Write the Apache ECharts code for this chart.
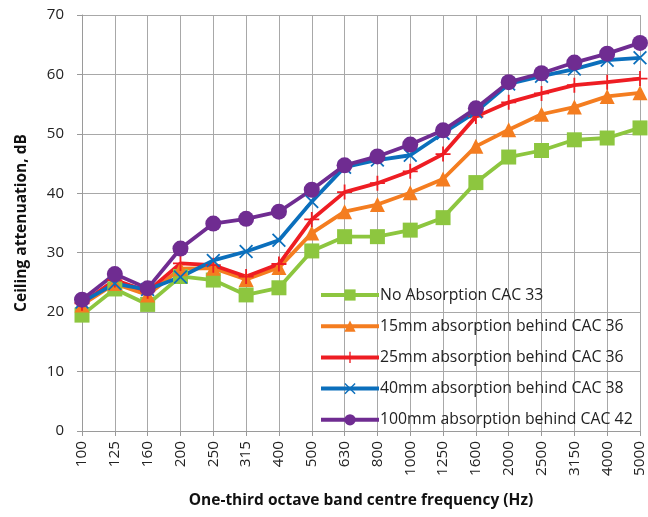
<!DOCTYPE html>
<html><head><meta charset="utf-8">
<script src="https://cdn.jsdelivr.net/npm/echarts@6/dist/echarts.min.js"></script>
<style>html,body{margin:0;padding:0;background:#fff}#c{width:648px;height:517px}</style>
</head><body><div id="c"></div>
<script>
const categories = ['100','125','160','200','250','315','400','500','630','800','1000','1250','1600','2000','2500','3150','4000','5000'];
const noAbs   = [19.5, 23.9, 21.3, 26.0, 25.4, 22.9, 24.1, 30.3, 32.7, 32.7, 33.8, 35.9, 41.8, 46.1, 47.2, 49.0, 49.3, 51.0];
const abs15   = [21.2, 24.8, 22.9, 27.3, 27.4, 25.5, 27.5, 33.3, 36.9, 38.1, 40.1, 42.4, 47.9, 50.7, 53.3, 54.5, 56.3, 56.9];
const abs25   = [21.5, 25.4, 23.5, 28.2, 27.9, 26.0, 28.1, 35.6, 40.2, 41.7, 43.7, 46.6, 52.9, 55.3, 56.8, 58.2, 58.7, 59.3];
const abs40   = [21.7, 24.8, 23.8, 25.9, 28.7, 30.2, 32.1, 38.6, 44.4, 45.6, 46.4, 50.1, 53.7, 58.4, 59.7, 60.9, 62.4, 62.8];
const abs100  = [22.1, 26.4, 24.0, 30.7, 34.9, 35.7, 36.9, 40.6, 44.7, 46.2, 48.2, 50.6, 54.3, 58.7, 60.2, 62.0, 63.5, 65.3];
const seriesNames = ['No Absorption CAC 33','15mm absorption behind CAC 36','25mm absorption behind CAC 36','40mm absorption behind CAC 38','100mm absorption behind CAC 42'];
const yTicks = [0,10,20,30,40,50,60,70];

const font = "'Open Sans', 'Liberation Sans', sans-serif";
const plusPath = 'path://M4.4,0h1.2v10h-1.2zM0,4.4h10v1.2h-10z';
const xPath = 'path://M0,0.9L0.9,0L10,9.1L9.1,10ZM9.1,0L10,0.9L0.9,10L0,9.1Z';

function mk(name, data, color, symbol, size) {
  return {
    name, type: 'line', data, symbol, symbolSize: size,
    lineStyle: {color, width: 3.8},
    itemStyle: {color, borderWidth: 0},
    emphasis: {disabled: true},
    animation: false
  };
}

const chart = echarts.init(document.getElementById('c'), null, {renderer: 'canvas'});
chart.setOption({
  backgroundColor: '#fff',
  animation: false,
  textStyle: {fontFamily: font},
  grid: {left: 82, right: 8, top: 15, bottom: 86, containLabel: false},
  legend: {
    orient: 'vertical', left: 314, top: 282,
    itemWidth: 58, itemHeight: 14, itemGap: 15.2,
    lineStyle: {width: 4},
    textStyle: {fontFamily: font, fontSize: 15.8, color: '#222', padding: [0,0,0,-4]},
    data: seriesNames
  },
  xAxis: {
    type: 'category', data: categories, boundaryGap: false,
    name: 'One-third octave band centre frequency (Hz)', nameLocation: 'middle', nameGap: 62,
    nameTextStyle: {fontFamily: font, fontSize: 15.5, fontWeight: 'bold', color: '#111'},
    axisLine: {lineStyle: {color: '#9a9a9a', width: 1}},
    axisTick: {show: true, alignWithLabel: true, length: 5, lineStyle: {color: '#9a9a9a'}},
    axisLabel: {rotate: 90, fontSize: 15.3, color: '#222', margin: 10, fontFamily: font, interval: 0},
    splitLine: {show: true, lineStyle: {color: '#a8a8a8', width: 1}}
  },
  yAxis: {
    type: 'value', min: 0, max: 70, interval: 10,
    name: 'Ceiling attenuation, dB', nameLocation: 'middle', nameGap: 52, nameRotate: 90,
    nameTextStyle: {fontFamily: font, fontSize: 15.5, fontWeight: 'bold', color: '#111'},
    axisLine: {show: true, lineStyle: {color: '#9a9a9a', width: 1}},
    axisTick: {show: true, length: 5, lineStyle: {color: '#9a9a9a'}},
    axisLabel: {fontSize: 15, color: '#222', margin: 18, fontFamily: font,
      formatter: v => yTicks.includes(v) ? String(v) : ''},
    splitLine: {show: true, lineStyle: {color: '#a8a8a8', width: 1}}
  },
  series: [
    mk(seriesNames[0], noAbs, '#8dc63f', 'rect', 15),
    mk(seriesNames[1], abs15, '#f47d20', 'triangle', 15),
    mk(seriesNames[2], abs25, '#ee1d23', plusPath, 15),
    mk(seriesNames[3], abs40, '#0b6fbc', xPath, 14),
    mk(seriesNames[4], abs100, '#6f2c91', 'circle', 16)
  ]
});
</script></body></html>
